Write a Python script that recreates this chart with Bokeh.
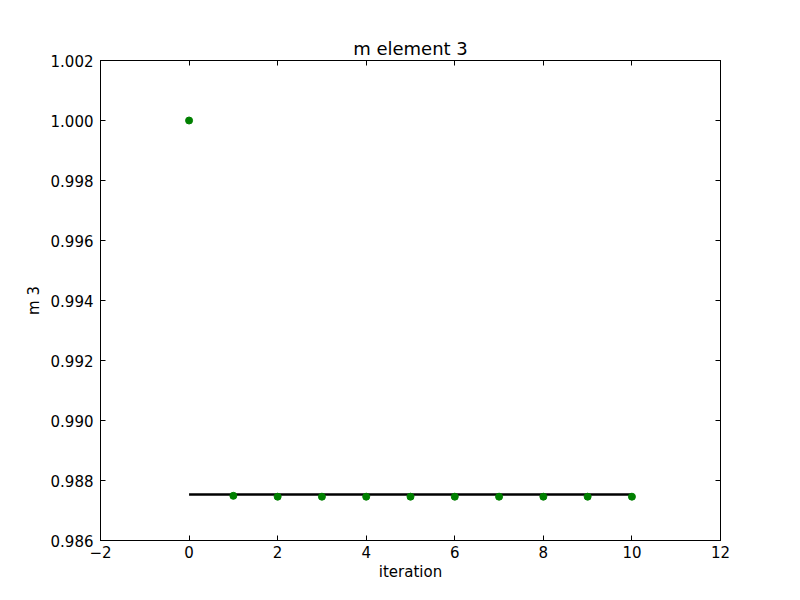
from bokeh.plotting import figure
from bokeh.models import FixedTicker, LinearAxis, Range1d, Title, NumeralTickFormatter
from bokeh.embed import file_html
from bokeh.resources import INLINE

iterations = [0, 1, 2, 3, 4, 5, 6, 7, 8, 9, 10]
m3_values = [1.000, 0.98749, 0.98746, 0.98746, 0.98746, 0.98746, 0.98746, 0.98746, 0.98746, 0.98746, 0.98746]
ref_x = [0, 10]
ref_y = [0.98753, 0.98753]

x_ticks = [-2, 0, 2, 4, 6, 8, 10, 12]
y_ticks = [0.986, 0.988, 0.990, 0.992, 0.994, 0.996, 0.998, 1.000, 1.002]

FONT = "DejaVu Sans"
FS = "15px"

p = figure(width=784, height=584, output_backend="svg", toolbar_location=None,
           x_range=Range1d(-2, 12), y_range=Range1d(0.986, 1.002),
           min_border_left=100, min_border_right=64, min_border_top=60, min_border_bottom=44,
           title=None)
p.outline_line_color = "black"
p.outline_line_width = 1
p.grid.visible = False
p.background_fill_color = "white"
p.border_fill_color = "white"

def style(ax):
    ax.major_tick_in = 5
    ax.major_tick_out = 0
    ax.minor_tick_in = 0
    ax.minor_tick_out = 0
    ax.axis_line_color = "black"
    ax.major_tick_line_color = "black"
    ax.major_label_text_font = FONT
    ax.major_label_text_font_size = FS
    ax.major_label_text_color = "black"
    ax.axis_label_text_font = FONT
    ax.axis_label_text_font_size = FS
    ax.axis_label_text_font_style = "normal"
    ax.axis_label_text_color = "black"

xa = p.xaxis[0]
xa.ticker = FixedTicker(ticks=x_ticks)
xa.axis_label = "iteration"
style(xa)
xa.major_label_standoff = 5
xa.axis_label_standoff = 2

ya = p.yaxis[0]
ya.ticker = FixedTicker(ticks=y_ticks)
ya.formatter = NumeralTickFormatter(format="0.000")
ya.axis_label = "m 3"
style(ya)
ya.major_label_standoff = 7
ya.axis_label_standoff = 5

top = LinearAxis(ticker=FixedTicker(ticks=x_ticks),
                 major_label_overrides={t: "" for t in x_ticks})
style(top)
top.major_label_standoff = 0
p.add_layout(top, "above")
right = LinearAxis(ticker=FixedTicker(ticks=y_ticks),
                   major_label_overrides={t: "" for t in y_ticks})
style(right)
right.major_label_standoff = 0
p.add_layout(right, "right")

t = Title(text="m element 3", align="center", text_font=FONT, text_font_size="18px",
          text_font_style="normal", text_color="black", standoff=3)
p.add_layout(t, "above")

p.line(ref_x, ref_y, line_color="black", line_width=2.5)
p.scatter(iterations, m3_values, size=7, fill_color="#008000", line_color="#008000")

open("out.html", "w").write(file_html(p, INLINE))
